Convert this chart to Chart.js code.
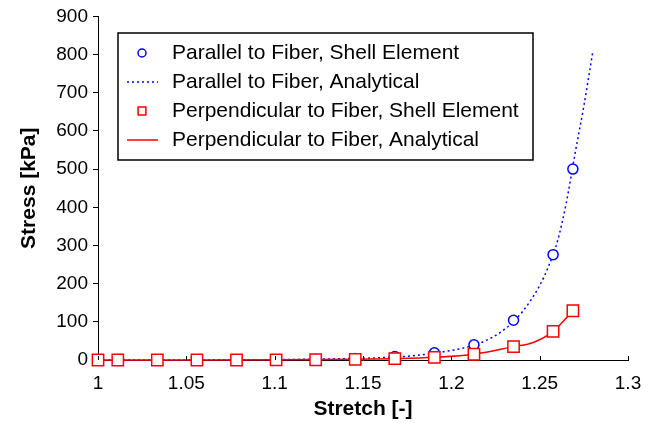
<!DOCTYPE html>
<html>
<head>
<meta charset="utf-8">
<script src="https://cdn.jsdelivr.net/npm/chart.js@4.4.1/dist/chart.umd.min.js"></script>
<style>
  html, body { margin: 0; padding: 0; background: #fff; }
  #wrap { width: 656px; height: 425px; }
</style>
</head>
<body>
<div id="wrap"><canvas id="chart" width="656" height="425"></canvas></div>
<script>
// shell element results (markers)
const stretchFE = [1, 1.0112, 1.0336, 1.056, 1.0784, 1.1008, 1.1232, 1.1456, 1.168, 1.1904, 1.2128, 1.2352, 1.2576, 1.2688];
const parallelFE = [0, 0, 0, 0, 0, 0.3, 2, 4, 9, 19, 40, 104, 276, 500];
const perpFE = [0, 0, 0, 0, 0, 0.2, 0.6, 1.7, 3.4, 7, 15, 35, 75, 129];

// analytical curves
const stretchParAn = [1, 1.05, 1.1, 1.12, 1.14, 1.16, 1.18, 1.2, 1.21, 1.22, 1.23, 1.24, 1.25, 1.255, 1.26, 1.265, 1.27, 1.275, 1.28];
const parallelAn = [0, 0.2, 1, 2, 3.5, 6, 12, 25, 35, 52, 80, 125, 195, 245, 310, 410, 540, 665, 805];
const stretchPerpAn = [1, 1.05, 1.1, 1.1456, 1.168, 1.1904, 1.2128, 1.2352, 1.2464, 1.2576, 1.2688];
const perpAn = [0, 0.1, 0.4, 1.7, 3.4, 7, 15, 35, 46, 75, 129];

const seriesLabels = [
  "Parallel to Fiber, Shell Element",
  "Parallel to Fiber, Analytical",
  "Perpendicular to Fiber, Shell Element",
  "Perpendicular to Fiber, Analytical",
];
const xTickLabels = ["1", "1.05", "1.1", "1.15", "1.2", "1.25", "1.3"];
const yTickLabels = ["0", "100", "200", "300", "400", "500", "600", "700", "800", "900"];

const FONT = "'Liberation Sans', Arial, Helvetica, sans-serif";
const BLUE = "#0000ff";
const RED = "#ff0000";

const toPts = (xs, ys) => xs.map((x, i) => ({ x: x, y: ys[i] }));

// legend box drawn inside the plot, plus inward x ticks
const boxLegend = {
  id: "boxLegend",
  afterDraw(chart) {
    const ctx = chart.ctx;
    const xs = chart.scales.x;
    const ys = chart.scales.y;

    // x ticks pointing up into the plot
    ctx.save();
    ctx.strokeStyle = "#000";
    ctx.lineWidth = 1;
    xs.ticks.forEach((t) => {
      const px = Math.round(xs.getPixelForValue(t.value)) + 0.5;
      ctx.beginPath();
      ctx.moveTo(px, ys.bottom);
      ctx.lineTo(px, ys.bottom - 4);
      ctx.stroke();
    });
    ctx.restore();

    const left = 118, top = 33, w = 415, h = 127;
    ctx.save();
    ctx.fillStyle = "#fff";
    ctx.fillRect(left, top, w, h);
    ctx.strokeStyle = "#000";
    ctx.lineWidth = 1.5;
    ctx.strokeRect(left, top, w, h);

    ctx.font = "21px " + FONT;
    ctx.textBaseline = "middle";
    ctx.textAlign = "left";
    chart.data.datasets.forEach((ds, i) => {
      const cy = top + 20 + i * 29;
      const mx = 142;
      ctx.save();
      if (ds.showLine) {
        ctx.strokeStyle = ds.borderColor;
        ctx.lineWidth = ds.borderWidth;
        ctx.setLineDash(ds.borderDash || []);
        ctx.beginPath();
        ctx.moveTo(127, cy);
        ctx.lineTo(158, cy);
        ctx.stroke();
      } else {
        ctx.strokeStyle = ds.borderColor;
        ctx.fillStyle = "#fff";
        ctx.lineWidth = 1.5;
        Chart.helpers.drawPoint(ctx, {
          pointStyle: ds.pointStyle,
          radius: ds.pointStyle === "rect" ? 5.5 : 4,
          rotation: 0,
          borderWidth: 1.5,
        }, mx, cy);
      }
      ctx.restore();
      ctx.fillStyle = "#000";
      ctx.fillText(ds.label, 172, cy);
    });
    ctx.restore();
  },
};

new Chart(document.getElementById("chart"), {
  type: "scatter",
  data: {
    datasets: [
      {
        label: seriesLabels[0],
        data: toPts(stretchFE, parallelFE),
        pointStyle: "circle",
        pointRadius: 5,
        borderColor: BLUE,
        backgroundColor: "#fff",
        pointBorderWidth: 1.5,
        showLine: false,
        clip: false,
        order: 2,
      },
      {
        label: seriesLabels[1],
        data: toPts(stretchParAn, parallelAn),
        showLine: true,
        pointRadius: 0,
        borderColor: BLUE,
        borderWidth: 1.5,
        borderDash: [2, 3],
        cubicInterpolationMode: "monotone",
        clip: false,
        order: 3,
      },
      {
        label: seriesLabels[2],
        data: toPts(stretchFE, perpFE),
        pointStyle: "rect",
        pointRadius: 8,
        borderColor: RED,
        backgroundColor: "#fff",
        pointBorderWidth: 1.5,
        showLine: false,
        clip: false,
        order: 0,
      },
      {
        label: seriesLabels[3],
        data: toPts(stretchPerpAn, perpAn),
        showLine: true,
        pointRadius: 0,
        borderColor: RED,
        borderWidth: 1.5,
        cubicInterpolationMode: "monotone",
        clip: false,
        order: 1,
      },
    ],
  },
  options: {
    responsive: false,
    animation: false,
    layout: { padding: { top: 14, right: 28, bottom: 0, left: 0 } },
    plugins: {
      legend: { display: false },
      tooltip: { enabled: false },
    },
    scales: {
      x: {
        type: "linear",
        min: 1,
        max: 1.3,
        afterFit: (s) => { s.height = 65; },
        ticks: {
          stepSize: 0.05,
          color: "#000",
          padding: 12,
          font: { family: FONT, size: 19 },
          callback: (v, i) => xTickLabels[i],
        },
        grid: { drawOnChartArea: false, drawTicks: false },
        border: { color: "#000", width: 1 },
        title: {
          display: true,
          text: "Stretch [-]",
          color: "#000",
          font: { family: FONT, size: 21, weight: "bold" },
          padding: { top: 0, bottom: 3 },
        },
      },
      y: {
        min: 0,
        max: 900,
        afterFit: (s) => { s.width = 98; },
        ticks: {
          stepSize: 100,
          color: "#000",
          padding: 5,
          font: { family: FONT, size: 19 },
          callback: (v, i) => yTickLabels[i],
        },
        grid: { drawOnChartArea: false, drawTicks: true, tickLength: 5, color: "#000" },
        border: { color: "#000", width: 1 },
        title: {
          display: true,
          text: "Stress [kPa]",
          color: "#000",
          font: { family: FONT, size: 21, weight: "bold" },
          padding: { top: 17, bottom: 0 },
        },
      },
    },
  },
  plugins: [boxLegend],
});
</script>
</body>
</html>
